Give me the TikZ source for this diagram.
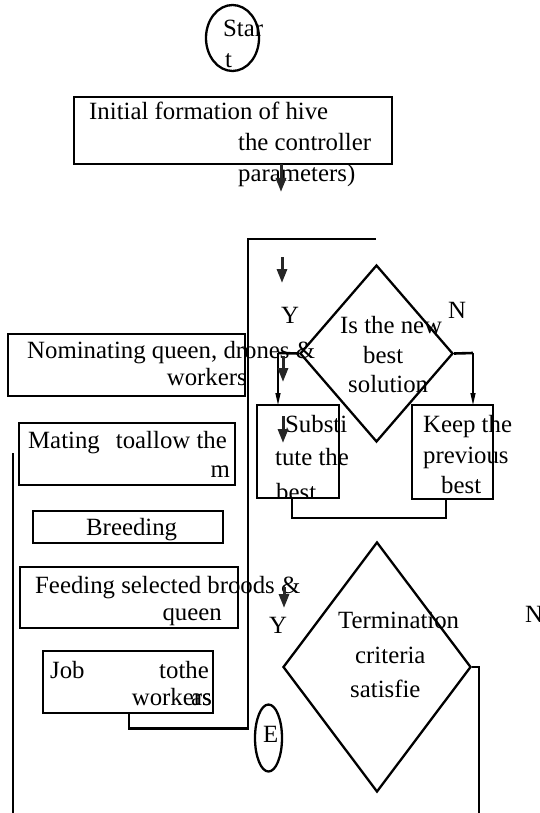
\documentclass[tikz,border=0pt]{standalone}
\usepackage{fontspec}
\setmainfont{Liberation Serif}
\usetikzlibrary{shapes.geometric,arrows.meta,calc}
\begin{document}
\begin{tikzpicture}[x=1pt,y=-1pt,
  box/.style={draw, line width=2.8pt, rectangle, inner sep=0pt},
  dia/.style={draw, line width=2.3pt, diamond, inner sep=0pt},
  oval/.style={draw, line width=2.3pt, ellipse, inner sep=0pt},
  lbl/.style={inner sep=0pt, font=\fontsize{24.8}{30}\selectfont},
  conn/.style={line width=2.6pt},
  thinarrow/.style={line width=1.3pt, -{Triangle[length=12pt,width=5pt]}},
  stub/.style={line width=3pt, -{Triangle[length=14pt,width=10pt]}, black!85},
]
\useasboundingbox (0,0) rectangle (539,813);

% ---- shapes ----
\node[oval, minimum width=53pt, minimum height=66pt] (start) at (232.5,38) {};
\node[box, minimum width=318pt, minimum height=67pt] (init) at (233,130.5) {};
\node[dia, minimum width=153pt, minimum height=177pt] (d1) at (376.5,353.5) {};
\node[box, minimum width=82pt, minimum height=93pt] (subst) at (298,451.5) {};
\node[box, minimum width=81pt, minimum height=94pt] (keep) at (452.5,452) {};
\node[box, minimum width=237pt, minimum height=62pt] (nom) at (126.5,365) {};
\node[box, minimum width=216pt, minimum height=62pt] (mating) at (127,454) {};
\node[box, minimum width=190pt, minimum height=32pt] (breed) at (128,527) {};
\node[box, minimum width=218pt, minimum height=61pt] (feed) at (129,597.5) {};
\node[box, minimum width=170pt, minimum height=62pt] (job) at (128,682) {};
\node[dia, minimum width=188pt, minimum height=250pt] (d2) at (377,667) {};
\node[oval, minimum width=27pt, minimum height=67pt] (endo) at (268.5,738) {};

% ---- texts ----
\node[lbl, anchor=base west] (tstar) at (223,36.5) {Star};
\node[lbl, anchor=base west] (tt) at (225,68) {t};
\node[lbl, anchor=base west] (ti1) at (89,120) {Initial formation of hive};
\node[lbl, anchor=base west] (ti2) at (238,151) {the controller};
\node[lbl, anchor=base west] (ti3) at (238,182) {parameters)};
\node[lbl, anchor=base west] (ty1) at (281,323) {Y};
\node[lbl, anchor=base west] (tn1) at (448,318) {N};
\node[lbl, anchor=base west] (td1a) at (340,333) {Is the new};
\node[lbl, anchor=base west] (td1b) at (363,363) {best};
\node[lbl, anchor=base west] (td1c) at (348,392) {solution};
\node[lbl, anchor=base west] (ts1) at (285,432) {Substi};
\node[lbl, anchor=base west] (ts2) at (275,465) {tute the};
\begin{scope}
  \clip (250,470) rectangle (360,497.5);
  \node[lbl, anchor=base west] (ts3) at (276,500) {best};
\end{scope}
\node[lbl, anchor=base west] (tk1) at (423,432) {Keep the};
\node[lbl, anchor=base west] (tk2) at (423,463) {previous};
\node[lbl, anchor=base west] (tk3) at (441,493) {best};
\node[lbl, anchor=base west] (tnom1) at (27,358) {Nominating queen, drones \&};
\node[lbl, anchor=base east] (tnom2) at (247,385) {workers};
\node[lbl, anchor=base west] (tm1) at (28,448) {Mating};
\node[lbl, anchor=base east] (tm2) at (227,448) {toallow the};
\node[lbl, anchor=base east] (tm3) at (230,477) {m};
\node[lbl, anchor=base west] (tb) at (86,535) {Breeding};
\node[lbl, anchor=base west] (tf1) at (35,593) {Feeding selected broods \&};
\node[lbl, anchor=base east] (tf2) at (222,620) {queen};
\node[lbl, anchor=base west] (tj1) at (50,678) {Job};
\node[lbl, anchor=base east] (tj2) at (209,678) {tothe};
\node[lbl, anchor=base east] (tj3) at (212,705) {workers};
\node[lbl, anchor=base east] (tj4) at (212,705) {as};
\node[lbl, anchor=base west] (ty2) at (269,633) {Y};
\node[lbl, anchor=base west] (tte1) at (338,628) {Termination};
\node[lbl, anchor=base west] (tte2) at (355,663) {criteria};
\node[lbl, anchor=base west] (tte3) at (350,697) {satisfie};
\node[lbl, anchor=base west] (tn2) at (525,622) {N};
\node[lbl, anchor=base west] (te) at (263,742) {E};

% ---- named coordinates ----
\coordinate (loopTR) at (376,239);
\coordinate (loopTL) at (248,239);
\coordinate (loopBR) at (248,727);
\coordinate (jobLeg) at ($(job.south)+(1,14)$);
\coordinate (leftY) at (278,353);
\coordinate (leftIn) at (278,405);
\coordinate (rightN) at (473,353);
\coordinate (rightIn) at (473,405);
\coordinate (sLeg) at (292,518);
\coordinate (kLeg) at (446,518);
\coordinate (d2R) at (479,667);
\coordinate (d2Down) at (479,813);
\coordinate (leftTop) at (13,453);
\coordinate (leftBot) at (13,813);
\coordinate (a1s) at (281,164); \coordinate (a1e) at (281,192);
\coordinate (a2s) at (282,257); \coordinate (a2e) at (282,283);
\coordinate (a3s) at (283,356); \coordinate (a3e) at (283,382);
\coordinate (a4s) at (283,416); \coordinate (a4e) at (283,443);
\coordinate (a5s) at (284,587); \coordinate (a5e) at (284,608);

% ---- connectors ----
\draw[conn] (loopTR) -- (loopTL) -- (loopBR) -- (jobLeg -| loopBR) -- (jobLeg) -- (jobLeg |- job.south);
\draw[conn] (d1.west) -- (leftY);
\draw[thinarrow] (leftY) -- (leftIn);
\draw[conn] (d1.east) -- (rightN);
\draw[thinarrow] (rightN) -- (rightIn);
\draw[conn] (sLeg |- subst.south) -- (sLeg) -- (kLeg) -- (kLeg |- keep.south);
\draw[conn] (d2.east) -- (d2R) -- (d2Down);
\draw[conn] (leftTop) -- (leftBot);
\draw[stub] (a1s) -- (a1e);
\draw[stub] (a2s) -- (a2e);
\draw[stub] (a3s) -- (a3e);
\draw[stub] (a4s) -- (a4e);
\draw[stub] (a5s) -- (a5e);
\end{tikzpicture}
\end{document}
